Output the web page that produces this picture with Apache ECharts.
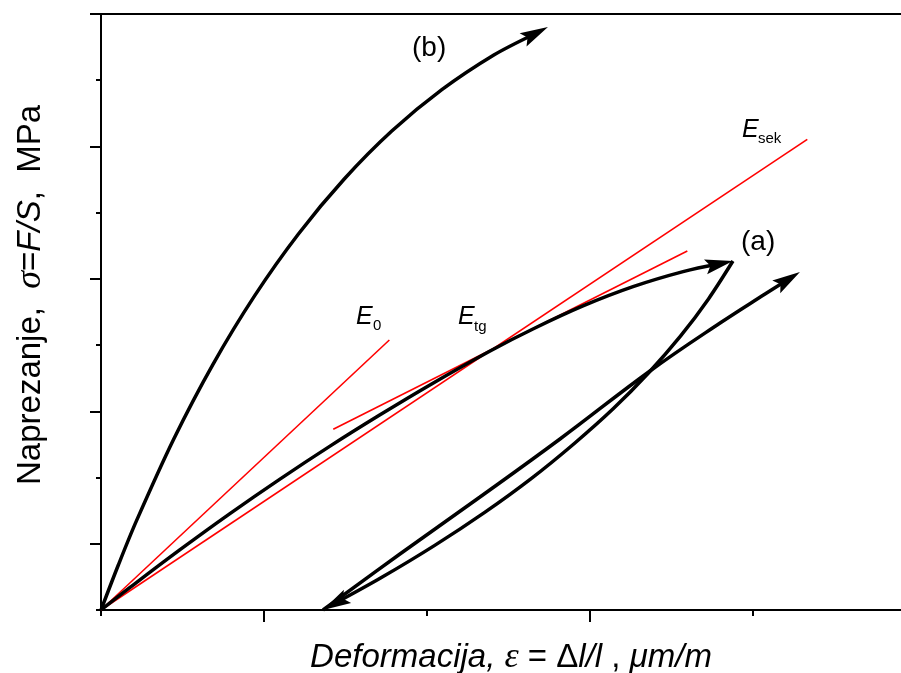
<!DOCTYPE html>
<html>
<head>
<meta charset="utf-8">
<script src="https://cdn.jsdelivr.net/npm/echarts@6/dist/echarts.min.js"></script>
<style>
html,body{margin:0;padding:0;background:#fff}
#chart{width:901px;height:673px}
</style>
</head>
<body>
<div id="chart"></div>
<script>
// curve (b)
let curveB = [[0,0],[0.107,0.683],[0.216,1.338],[0.445,2.575],[0.687,3.710],[0.942,4.743],[1.210,5.674],
  [1.491,6.504],[1.784,7.232],[2.091,7.857],[2.410,8.381],[2.742,8.804]]
// curve (a): loading, unloading, reloading
let loadA = [[0,0],[0.178,0.341],[0.485,0.911],[0.791,1.456],[1.098,1.977],[1.405,2.475],[1.712,2.948],
  [2.018,3.399],[2.387,3.911],[2.650,4.243],[2.957,4.591],[3.264,4.882],[3.571,5.109],[3.877,5.270]]
let unloadA = [[3.877,5.270],[3.727,4.698],[3.555,4.135],[3.360,3.583],[3.142,3.038],[2.902,2.511],
  [2.639,1.984],[2.354,1.474],[2.045,0.972],[1.715,0.482],[1.362,0]]
let reloadA = [[1.362,0],[1.834,0.846],[2.325,1.706],[2.816,2.582],[3.368,3.609],[3.798,4.334],[4.074,4.772],[4.288,5.104]]
// moduli lines
let lineE0 = [[0,0],[1.769,4.077]]
let lineEtg = [[1.425,2.729],[3.597,5.421]]
let lineEsek = [[0,0],[4.333,7.108]]
// ticks
let xMajor = [1,3]
let xMinor = [0,2,4]
let yMajor = [1,3,5,7,9]
let yMinor = [0,2,4,6,8]

let chart = echarts.init(document.getElementById("chart"), null, {renderer:"canvas"})

let xMax = 800/163
let axisBase = (pos, min, max) => ({
  type:"value", position:pos, min:min, max:max,
  axisLabel:{show:false}, splitLine:{show:false},
  axisLine:{show:false, lineStyle:{color:"#000", width:2}},
  axisTick:{show:false}
})

let richStyle = (size) => ({
  i:{fontFamily:"Liberation Sans", fontStyle:"italic", fontSize:size, color:"#000"},
  n:{fontFamily:"Liberation Sans", fontSize:size, color:"#000"},
  g:{fontFamily:"Liberation Serif", fontStyle:"italic", fontSize:size+3, color:"#000"}
})

let xA = axisBase("bottom",0,xMax)
xA.axisLine.show = true
xA.axisTick = {show:true, customValues:xMinor, length:6, lineStyle:{color:"#000", width:2}}
xA.name = "{i|Deformacija,}{n| }{g|ε}{n| = Δ}{i|l/l}{n| , }{i|μm/m}"
xA.nameLocation = "middle"
xA.nameGap = 30
xA.nameTextStyle = {padding:[0,0,0,20], rich:richStyle(33)}
let xB = axisBase("bottom",0,xMax)
xB.axisTick = {show:true, customValues:xMajor, length:12, lineStyle:{color:"#000", width:2}}
let xTop = axisBase("top",0,xMax)
xTop.axisLine.show = true

let yA = axisBase("left",0,9)
yA.axisLine.show = true
yA.axisTick = {show:true, customValues:yMinor, length:5, lineStyle:{color:"#000", width:2}}
yA.name = "{n|Naprezanje,  }{g|σ}{n|=}{i|F/S}{n|,  MPa}"
yA.nameLocation = "middle"
yA.nameRotate = 90
yA.nameGap = 52
yA.nameTextStyle = {padding:[0,0,0,34], rich:richStyle(33)}
let yB = axisBase("left",0,9)
yB.axisTick = {show:true, customValues:yMajor, length:11, lineStyle:{color:"#000", width:2}}

let curveStyle = {color:"#000", width:3.5}
let redStyle = {color:"#ff0000", width:1.6}

let lineSeries = (data, style, smooth) => ({
  type:"line", data:data, symbol:"none", smooth:smooth, lineStyle:style,
  silent:true, z:style.color === "#000" ? 3 : 2
})

let label = (txt, x, y, size, italic) => ({
  type:"text", left:x, top:y,
  style:{text:txt, fill:"#000", fontFamily:"Liberation Sans", fontSize:size, fontStyle:italic ? "italic" : "normal"}
})

chart.setOption({
  animation:false,
  backgroundColor:"#fff",
  grid:{left:101, right:0, top:14, bottom:63, containLabel:false, outerBoundsMode:"none"},
  xAxis:[xA, xB, xTop],
  yAxis:[yA, yB],
  graphic:[
    label("(b)", 412, 34, 28, false),
    label("(a)", 741, 228, 28, false),
    label("E", 356, 305, 25, true),
    label("0", 373, 318, 15, false),
    label("E", 458, 305, 25, true),
    label("tg", 474, 319, 15, false),
    label("E", 742, 118, 25, true),
    label("sek", 758, 131, 15, false)
  ],
  series:[]
})

// arrowheads: placed from the curve end direction in pixel space
let arrowLen = 28
let arrowFor = (pts) => {
  let tip = chart.convertToPixel({gridIndex:0}, pts[pts.length-1])
  let prev = chart.convertToPixel({gridIndex:0}, pts[pts.length-2])
  let dx = tip[0]-prev[0], dy = tip[1]-prev[1]
  let d = Math.hypot(dx, dy)
  dx /= d; dy /= d
  let center = [tip[0]-dx*arrowLen/2, tip[1]-dy*arrowLen/2]
  let base = [tip[0]-dx*arrowLen*0.6, tip[1]-dy*arrowLen*0.6]
  return {
    item:{value:chart.convertFromPixel({gridIndex:0}, center), symbolRotate:Math.atan2(-dy, dx)*180/Math.PI - 90},
    line:pts.slice(0,-1).concat([chart.convertFromPixel({gridIndex:0}, base)])
  }
}

let arrows = [curveB, loadA, unloadA, reloadA].map(arrowFor)

chart.setOption({
  series:[
    lineSeries(lineE0, redStyle, false),
    lineSeries(lineEtg, redStyle, false),
    lineSeries(lineEsek, redStyle, false),
    lineSeries(arrows[0].line, curveStyle, 0.3),
    lineSeries(arrows[1].line, curveStyle, 0.4),
    lineSeries(arrows[2].line, curveStyle, 0.3),
    lineSeries(arrows[3].line, curveStyle, 0.4),
    {
      type:"scatter", symbol:"path://M7.5,0L15,28L7.5,23L0,28Z", symbolSize:[15,28], silent:true, z:4,
      itemStyle:{color:"#000", opacity:1},
      data:arrows.map(a => a.item)
    }
  ]
})
</script>
</body>
</html>
